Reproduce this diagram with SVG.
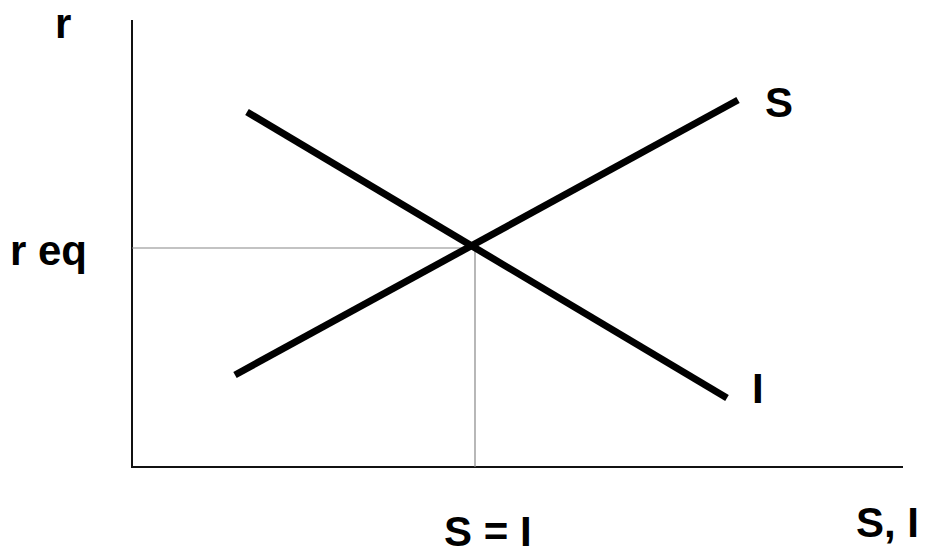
<svg xmlns="http://www.w3.org/2000/svg" width="926" height="556" viewBox="0 0 926 556">
<style>
.lbl{font-family:"Liberation Sans",Arial,sans-serif;font-weight:bold;font-size:42px;fill:#000}
.axis{stroke:#111;stroke-width:2;fill:none}
.guide{stroke:#888;stroke-width:1.2;fill:none}
.curve{stroke:#000;stroke-width:7;stroke-linecap:butt;fill:none}
</style>
<rect width="926" height="556" fill="#fff"/>
<g id="connectors">
<polyline class="axis" points="132,20 132,467 903,467"/>
<line class="guide" x1="132" y1="248" x2="474" y2="248"/>
<line class="guide" x1="475" y1="248" x2="475" y2="467"/>
</g>
<g id="curve-S"><line class="curve" x1="235" y1="375" x2="738" y2="100"/></g>
<g id="curve-I"><line class="curve" x1="247" y1="112" x2="727" y2="398"/></g>
<g id="labels">
<text class="lbl" x="55" y="38">r</text>
<text class="lbl" x="10" y="265">r eq</text>
<text class="lbl" x="765" y="117">S</text>
<text class="lbl" x="752" y="403">I</text>
<text class="lbl" x="444" y="546">S = I</text>
<text class="lbl" x="856" y="537">S, I</text>
</g>
</svg>
